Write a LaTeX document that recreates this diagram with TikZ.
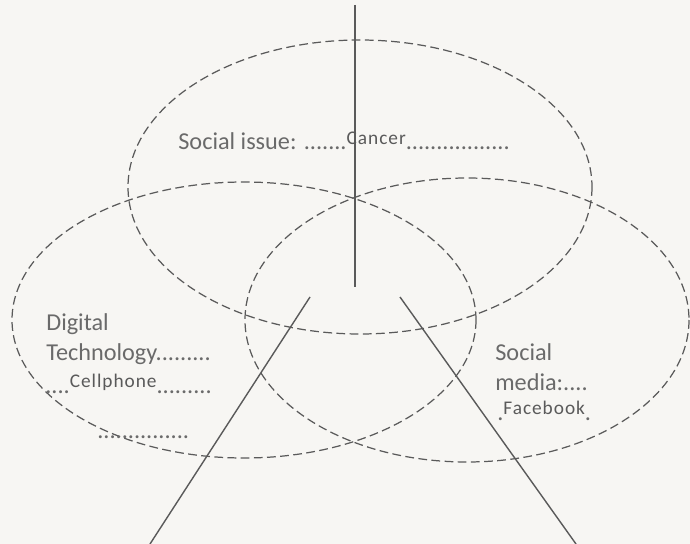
\documentclass[tikz,border=0pt]{standalone}
\usepackage{fontspec}
\setmainfont{Carlito}
\usepackage{xcolor}
\usepackage{tikz}
\definecolor{paper}{HTML}{F7F6F3}
\definecolor{pencil}{HTML}{5A5A5A}
\definecolor{ink}{HTML}{6A6A6A}
\newcommand{\handw}[1]{\raisebox{3pt}{\fontsize{11}{12}\selectfont\addfontfeature{LetterSpace=5}\color{pencil}#1}}
\tikzset{fig/.style={line join=round,x=0.02cm,y=-0.02cm},
  ring/.style={pencil,line width=0.7pt,dash pattern=on 5pt off 2.5pt},
  lbl/.style={font=\fontsize{13.8}{16}\selectfont,ink,anchor=west,inner sep=0pt}}

\begin{document}
\begin{tikzpicture}[fig]
  \fill[paper](0,0)rectangle(690,544);
  \useasboundingbox(0,0)rectangle(690,544);
  % the three sets
  \draw[ring](360,187)ellipse[x radius=232,y radius=147];
  \draw[ring](244,320)ellipse[x radius=232,y radius=138];
  \draw[ring](467,320)ellipse[x radius=222,y radius=142];
  % pointer lines
  \coordinate(vtop)at(355,5);\coordinate(vbot)at(355,287);
  \coordinate(ltop)at(310,297);\coordinate(lbot)at(150,544);
  \coordinate(rtop)at(400,297);\coordinate(rbot)at(576,544);
  \draw[pencil,line width=0.8pt](vtop)--(vbot);
  \draw[pencil,line width=0.8pt](ltop)--(lbot);
  \draw[pencil,line width=0.8pt](rtop)--(rbot);
  % labels
  \node[lbl](issue)at(178,141){Social issue: .......\handw{Cancer}.................};
  \node[lbl](dig)at(46,324){Digital};
  \node[lbl](tech)at(46,354){Technology.........};
  \node[lbl](cell)at(45,384){....\handw{Cellphone}.........};
  \node[lbl](blank)at(97,437){...............};
  \node[lbl](soc)at(495,352){Social};
  \node[lbl](med)at(495,382){media:....};
  \node[lbl](fb)at(497,411){.\handw{Facebook}.};
\end{tikzpicture}
\end{document}
